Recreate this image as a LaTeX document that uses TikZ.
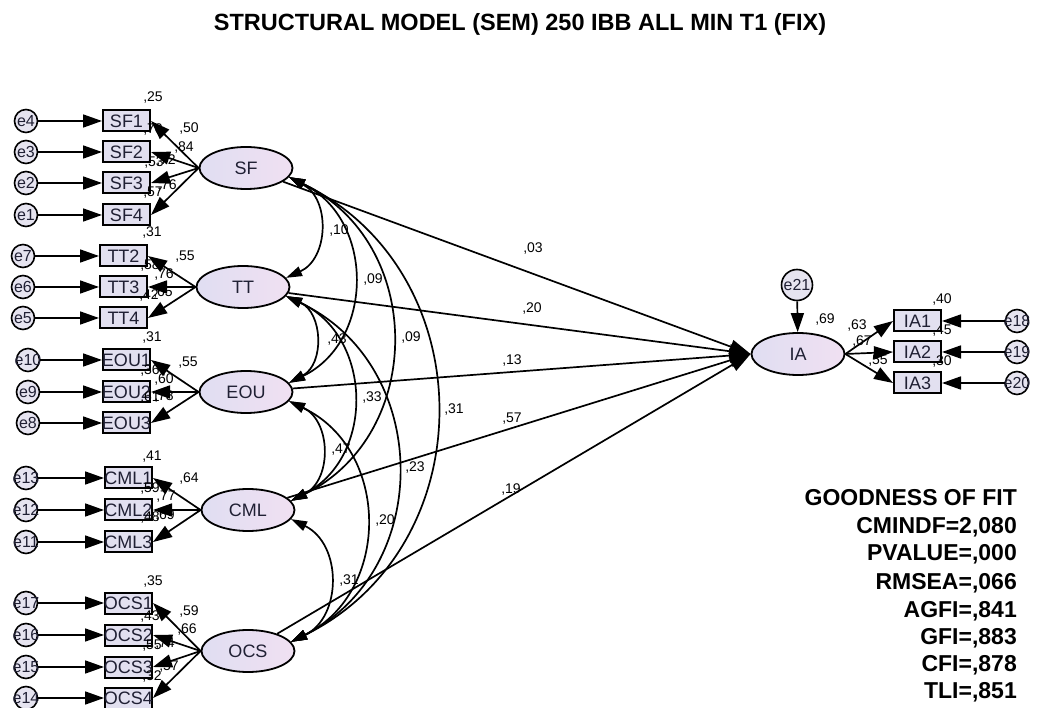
\documentclass[tikz,border=0pt]{standalone}
\usepackage{fontspec}
\setmainfont{Liberation Sans}
\usetikzlibrary{shapes.geometric,arrows.meta}

\definecolor{lavleft}{RGB}{224,222,242}
\definecolor{lavright}{RGB}{240,224,242}
\definecolor{boxfill}{RGB}{226,224,240}
\definecolor{errfill}{RGB}{230,228,240}
\definecolor{ink}{RGB}{32,32,52}

\tikzset{
  latent/.style={ellipse, draw, line width=1.8pt, minimum width=93pt, minimum height=42pt,
    inner sep=0pt, left color=lavleft, right color=lavright, text=ink,
    font=\fontsize{18}{18}\selectfont},
  obs/.style={rectangle, draw, line width=2pt, minimum width=47pt, minimum height=21pt,
    inner sep=0pt, fill=boxfill, text=ink, font=\fontsize{18}{18}\selectfont,
    execute at begin node={\hbox to 0pt\bgroup\hss}, execute at end node={\hss\egroup}},
  err/.style={circle, draw, line width=1.6pt, minimum size=23pt, inner sep=0pt,
    fill=errfill, text=ink, font=\fontsize{16}{16}\selectfont,
    execute at begin node={\hbox to 0pt\bgroup\hss}, execute at end node={\hss\egroup}},
  lbl/.style={inner sep=0pt, font=\fontsize{14}{14}\selectfont},
  arr/.style={line width=1.7pt, -{Triangle[length=19pt,width=13pt]}},
  cov/.style={line width=1.7pt, {Triangle[length=16pt,width=10pt]}-{Triangle[length=16pt,width=10pt]},
    bend left=64, looseness=1.19},
  gof/.style={anchor=base east, inner sep=0pt, font=\fontsize{23}{23}\selectfont\bfseries},
}

\begin{document}
\begin{tikzpicture}[x=1pt,y=1pt]
\useasboundingbox (0,0) rectangle (1037,-708);

% title
\node[inner sep=0pt, font=\fontsize{23.5}{23.5}\selectfont\bfseries] (title) at (520,-24)
  {STRUCTURAL MODEL (SEM) 250 IBB ALL MIN T1 (FIX)};

% latent variables
\node[latent] (SF)  at (246,-168) {SF};
\node[latent] (TT)  at (243,-287) {TT};
\node[latent] (EOU) at (246,-392) {EOU};
\node[latent] (CML) at (248,-510) {CML};
\node[latent] (OCS) at (248,-651) {OCS};
\node[latent] (IA)  at (798,-354) {IA};

% observed indicators
\node[obs] (SF1) at (126.5,-121) {SF1};
\node[obs] (SF2) at (126.5,-152) {SF2};
\node[obs] (SF3) at (126.5,-183) {SF3};
\node[obs] (SF4) at (126.5,-215) {SF4};
\node[obs] (TT2) at (123.5,-256) {TT2};
\node[obs] (TT3) at (123.5,-287) {TT3};
\node[obs] (TT4) at (123.5,-318) {TT4};
\node[obs] (EOU1) at (126.5,-360) {EOU1};
\node[obs] (EOU2) at (126.5,-392) {EOU2};
\node[obs] (EOU3) at (126.5,-423) {EOU3};
\node[obs] (CML1) at (128.5,-478) {CML1};
\node[obs] (CML2) at (128.5,-510) {CML2};
\node[obs] (CML3) at (128.5,-542) {CML3};
\node[obs] (OCS1) at (128.5,-603) {OCS1};
\node[obs] (OCS2) at (128.5,-635) {OCS2};
\node[obs] (OCS3) at (128.5,-667) {OCS3};
\node[obs] (OCS4) at (128.5,-698) {OCS4};
\node[obs] (IA1) at (917.5,-321) {IA1};
\node[obs] (IA2) at (917.5,-352) {IA2};
\node[obs] (IA3) at (917.5,-383) {IA3};

% error terms
\node[err] (e4) at (26,-121) {e4};
\node[err] (e3) at (26,-152) {e3};
\node[err] (e2) at (26,-183) {e2};
\node[err] (e1) at (26,-215) {e1};
\node[err] (e7) at (23,-256) {e7};
\node[err] (e6) at (23,-287) {e6};
\node[err] (e5) at (23,-318) {e5};
\node[err] (e10) at (28,-360) {e10};
\node[err] (e9)  at (28,-392) {e9};
\node[err] (e8)  at (28,-423) {e8};
\node[err] (e13) at (26,-478) {e13};
\node[err] (e12) at (26,-510) {e12};
\node[err] (e11) at (26,-542) {e11};
\node[err] (e17) at (26,-603) {e17};
\node[err] (e16) at (26,-635) {e16};
\node[err] (e15) at (26,-667) {e15};
\node[err] (e14) at (26,-698) {e14};
\node[err] (e18) at (1017,-321) {e18};
\node[err] (e19) at (1017,-352) {e19};
\node[err] (e20) at (1017,-383) {e20};
\node[err, minimum size=31pt] (e21) at (797,-285) {e21};

% squared multiple correlations and loadings
\node[lbl] (r1)  at (153,-98)  {,25};
\node[lbl] (r2)  at (153,-130) {,70};
\node[lbl] (r3)  at (154,-163) {,53};
\node[lbl] (r4)  at (153,-193) {,57};
\node[lbl] (k1)  at (189,-129) {,50};
\node[lbl] (k2)  at (184,-148) {,84};
\node[lbl] (k3)  at (166,-161) {,72};
\node[lbl] (k4)  at (167,-186) {,76};

\node[lbl] (r5)  at (152,-233) {,31};
\node[lbl] (r6)  at (150,-266) {,58};
\node[lbl] (r7)  at (149,-296) {,42};
\node[lbl] (k5)  at (185,-257) {,55};
\node[lbl] (k6)  at (164,-275) {,76};
\node[lbl] (k7)  at (163,-293) {,65};

\node[lbl] (r8)  at (152,-338) {,31};
\node[lbl] (r9)  at (150,-371) {,36};
\node[lbl] (r10) at (150,-398) {,61};
\node[lbl] (k8)  at (188,-363) {,55};
\node[lbl] (k9)  at (164,-380) {,60};
\node[lbl] (k10) at (164,-397) {,78};

\node[lbl] (r11) at (152,-457) {,41};
\node[lbl] (r12) at (150,-489) {,59};
\node[lbl] (r13) at (150,-518) {,48};
\node[lbl] (k11) at (189,-479) {,64};
\node[lbl] (k12) at (166,-497) {,77};
\node[lbl] (k13) at (165,-516) {,69};

\node[lbl] (r14) at (153,-582) {,35};
\node[lbl] (r15) at (150,-617) {,43};
\node[lbl] (r16) at (152,-646) {,55};
\node[lbl] (r17) at (152,-677) {,32};
\node[lbl] (k14) at (189,-612) {,59};
\node[lbl] (k15) at (187,-630) {,66};
\node[lbl] (k16) at (165,-644) {,74};
\node[lbl] (k17) at (169,-667) {,57};

\node[lbl] (r18) at (942,-300) {,40};
\node[lbl] (r19) at (942,-331) {,45};
\node[lbl] (r20) at (942,-362) {,30};
\node[lbl] (r21) at (825,-320) {,69};
\node[lbl] (k18) at (857,-326) {,63};
\node[lbl] (k19) at (862,-342) {,67};
\node[lbl] (k20) at (878,-361) {,55};

% error arrows
\foreach \e/\o in {e4/SF1,e3/SF2,e2/SF3,e1/SF4,e7/TT2,e6/TT3,e5/TT4,
                   e10/EOU1,e9/EOU2,e8/EOU3,e13/CML1,e12/CML2,e11/CML3,
                   e17/OCS1,e16/OCS2,e15/OCS3,e14/OCS4,
                   e18/IA1,e19/IA2,e20/IA3,e21/IA}
  \draw[arr] (\e) -- (\o);

% measurement arrows
\foreach \l/\o in {SF/SF1,SF/SF2,SF/SF3,SF/SF4,TT/TT2,TT/TT3,TT/TT4,
                   EOU/EOU1,EOU/EOU2,EOU/EOU3,CML/CML1,CML/CML2,CML/CML3,
                   OCS/OCS1,OCS/OCS2,OCS/OCS3,OCS/OCS4}
  \draw[arr] (\l.west) -- (\o.east);
\foreach \o in {IA1,IA2,IA3}
  \draw[arr] (IA.east) -- (\o.west);

% structural paths
\foreach \l in {SF,TT,EOU,CML,OCS}
  \draw[arr, -{Triangle[length=21pt,width=14pt]}] (\l) -- (IA.west);

% covariances
\draw[cov] (SF.-12) to (TT.12);
\draw[cov] (SF.-12) to (EOU.12);
\draw[cov] (SF.-12) to (CML.12);
\draw[cov] (SF.-12) to (OCS.12);
\draw[cov] (TT.-12) to (EOU.12);
\draw[cov] (TT.-12) to (CML.12);
\draw[cov] (TT.-12) to (OCS.12);
\draw[cov] (EOU.-12) to (CML.12);
\draw[cov] (EOU.-12) to (OCS.12);
\draw[cov] (CML.-12) to (OCS.12);

% path and covariance estimates
\node[lbl] (p1) at (533,-249) {,03};
\node[lbl] (p2) at (532,-309) {,20};
\node[lbl] (p3) at (512,-361) {,13};
\node[lbl] (p4) at (512,-419) {,57};
\node[lbl] (p5) at (511,-490) {,19};

\node[lbl] (c1)  at (339,-231) {,10};
\node[lbl] (c2)  at (373,-280) {,09};
\node[lbl] (c3)  at (411,-338) {,09};
\node[lbl] (c4)  at (454,-410) {,31};
\node[lbl] (c5)  at (337,-340) {,43};
\node[lbl] (c6)  at (372,-398) {,33};
\node[lbl] (c7)  at (341,-450) {,47};
\node[lbl] (c8)  at (415,-468) {,23};
\node[lbl] (c9)  at (385,-521) {,20};
\node[lbl] (c10) at (349,-581) {,31};

% fit indices
\node[gof] (g0) at (1017,-506) {GOODNESS OF FIT};
\node[gof] (g1) at (1017,-534) {CMINDF=2,080};
\node[gof] (g2) at (1017,-561) {PVALUE=,000};
\node[gof] (g3) at (1017,-589) {RMSEA=,066};
\node[gof] (g4) at (1017,-617) {AGFI=,841};
\node[gof] (g5) at (1017,-644) {GFI=,883};
\node[gof] (g6) at (1017,-671) {CFI=,878};
\node[gof] (g7) at (1017,-698) {TLI=,851};
\end{tikzpicture}
\end{document}
